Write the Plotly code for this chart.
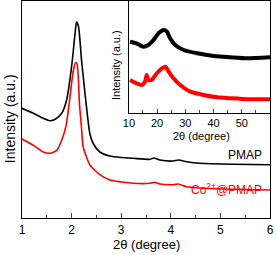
import plotly.graph_objects as go

# Main panel data (2theta, intensity a.u.)
pmap_x = [1.0, 1.23, 1.40, 1.56, 1.67, 1.80, 1.90, 2.00, 2.07, 2.10, 2.14, 2.20, 2.27, 2.37,
          2.44, 2.57, 2.77, 3.00, 3.24, 3.58, 3.66, 3.78, 4.05, 4.15, 4.32, 4.59, 5.26, 6.0]
pmap_y = [109.7, 104.7, 100.3, 97.3, 98.7, 104.7, 118, 151.3, 184.7, 196, 191.3, 158, 124.7, 84,
          74, 66, 62, 60.5, 59.7, 58.7, 60, 58, 57, 58, 56.3, 54.7, 53.7, 53.3]

co_x = [1.0, 1.23, 1.43, 1.56, 1.70, 1.80, 1.89, 1.96, 2.03, 2.08, 2.11, 2.16, 2.20, 2.23,
        2.30, 2.37, 2.57, 2.77, 3.00, 3.24, 3.58, 3.68, 3.78, 4.05, 4.15, 4.32, 4.59, 5.26, 6.0]
co_y = [79, 72.7, 66, 64.7, 67.7, 77.7, 92.7, 118, 146, 155.3, 154, 113, 90, 72,
        61, 53, 43.3, 38, 36, 34.7, 34.7, 35.7, 34, 33.3, 34, 31.3, 30, 28.7, 28]

# Inset data
in_pmap_x = [10.4, 12.7, 15.1, 16.9, 18.7, 20.5, 22.3, 23.5, 24.6, 26.4, 29.4, 34.2, 40.1, 46.1, 52.0, 60.0]
in_pmap_y = [71.3, 69.7, 66.3, 68, 73, 79.7, 83, 81.3, 74.7, 68, 63, 59.7, 57, 55.7, 54.7, 55.7]

in_co_x = [10.4, 12.7, 14.5, 15.7, 16.3, 16.9, 18.1, 19.9, 21.7, 22.9, 24.1, 25.8, 28.2, 31.8, 36.5, 41.3, 46.1, 52.0, 60.0]
in_co_y = [33, 29.7, 28, 31.3, 38, 33, 33, 39.7, 44.7, 46.3, 41.3, 34.7, 28, 21.3, 18, 15.7, 14.7, 13.7, 13.7]

main_ticks = [1, 2, 3, 4, 5, 6]
inset_ticks = [10, 20, 30, 40, 50]

fig = go.Figure()
fig.add_trace(go.Scatter(x=pmap_x, y=pmap_y, mode="lines", line=dict(color="black", width=1.6, shape="spline", smoothing=0.6),
                         xaxis="x", yaxis="y", showlegend=False))
fig.add_trace(go.Scatter(x=co_x, y=co_y, mode="lines", line=dict(color="#ff0000", width=1.6, shape="spline", smoothing=0.6),
                         xaxis="x", yaxis="y", showlegend=False))
fig.add_trace(go.Scatter(x=in_pmap_x, y=in_pmap_y, mode="lines", line=dict(color="black", width=4, shape="spline", smoothing=0.6),
                         xaxis="x2", yaxis="y2", showlegend=False))
fig.add_trace(go.Scatter(x=in_co_x, y=in_co_y, mode="lines", line=dict(color="#ff0000", width=4, shape="spline", smoothing=0.6),
                         xaxis="x2", yaxis="y2", showlegend=False))

font = "Liberation Sans, Arial, sans-serif"
fig.update_layout(
    width=276, height=255,
    margin=dict(l=22, r=6, t=1, b=37),
    paper_bgcolor="white", plot_bgcolor="white",
    font=dict(family=font, color="black"),
    xaxis=dict(domain=[0, 1], range=[1, 6], tickvals=main_ticks, ticks="inside", ticklen=5, tickwidth=1,
               minor=dict(dtick=0.5, ticks="inside", ticklen=3, tickwidth=1, showgrid=False),
               showline=True, linecolor="black", linewidth=1.2, mirror=True, showgrid=False, zeroline=False,
               tickfont=dict(size=12)),
    yaxis=dict(domain=[0, 1], range=[0, 217], showticklabels=False, ticks="", showline=True, linecolor="black",
               linewidth=1.2, mirror=True, showgrid=False, zeroline=False),
    xaxis2=dict(domain=[0.431, 1.0], anchor="y2", range=[10, 60], tickvals=inset_ticks, ticks="inside", ticklen=4,
                minor=dict(dtick=5, ticks="inside", ticklen=3, showgrid=False),
                showline=True, linecolor="black", linewidth=1.2, mirror=True, showgrid=False, zeroline=False,
                tickfont=dict(size=11)),
    yaxis2=dict(domain=[0.484, 1.0], anchor="x2", range=[0, 112], showticklabels=False, ticks="", showline=True,
                linecolor="black", linewidth=1.2, mirror=True, showgrid=False, zeroline=False),
)

fig.add_annotation(text="2θ (degree)", xref="paper", yref="paper", x=0.5, y=-0.12, yanchor="middle",
                   xanchor="center", showarrow=False, font=dict(size=13))
fig.add_annotation(text="Intensity (a.u.)", xref="paper", yref="paper", x=-0.048, y=0.456, textangle=-90,
                   xanchor="center", yanchor="middle", showarrow=False, font=dict(size=14))
fig.add_annotation(text="2θ (degree)", xref="paper", yref="paper", x=0.724, y=0.378, yanchor="middle",
                   xanchor="center", showarrow=False, font=dict(size=11))
fig.add_annotation(text="Intensity (a.u.)", xref="paper", yref="paper", x=0.379, y=0.705, textangle=-90,
                   xanchor="center", yanchor="middle", showarrow=False, font=dict(size=11))
fig.add_annotation(text="PMAP", xref="x", yref="y", x=5.87, y=63, xanchor="right", showarrow=False,
                   font=dict(size=12, color="black"))
fig.add_annotation(text="Co<sup>2+</sup>@PMAP", xref="x", yref="y", x=5.87, y=29, xanchor="right", showarrow=False,
                   font=dict(size=12, color="#ff0000"))

fig.write_html("out.html", config={"displayModeBar": False},
               post_script="document.body.style.margin='0';document.body.style.overflow='hidden';")
